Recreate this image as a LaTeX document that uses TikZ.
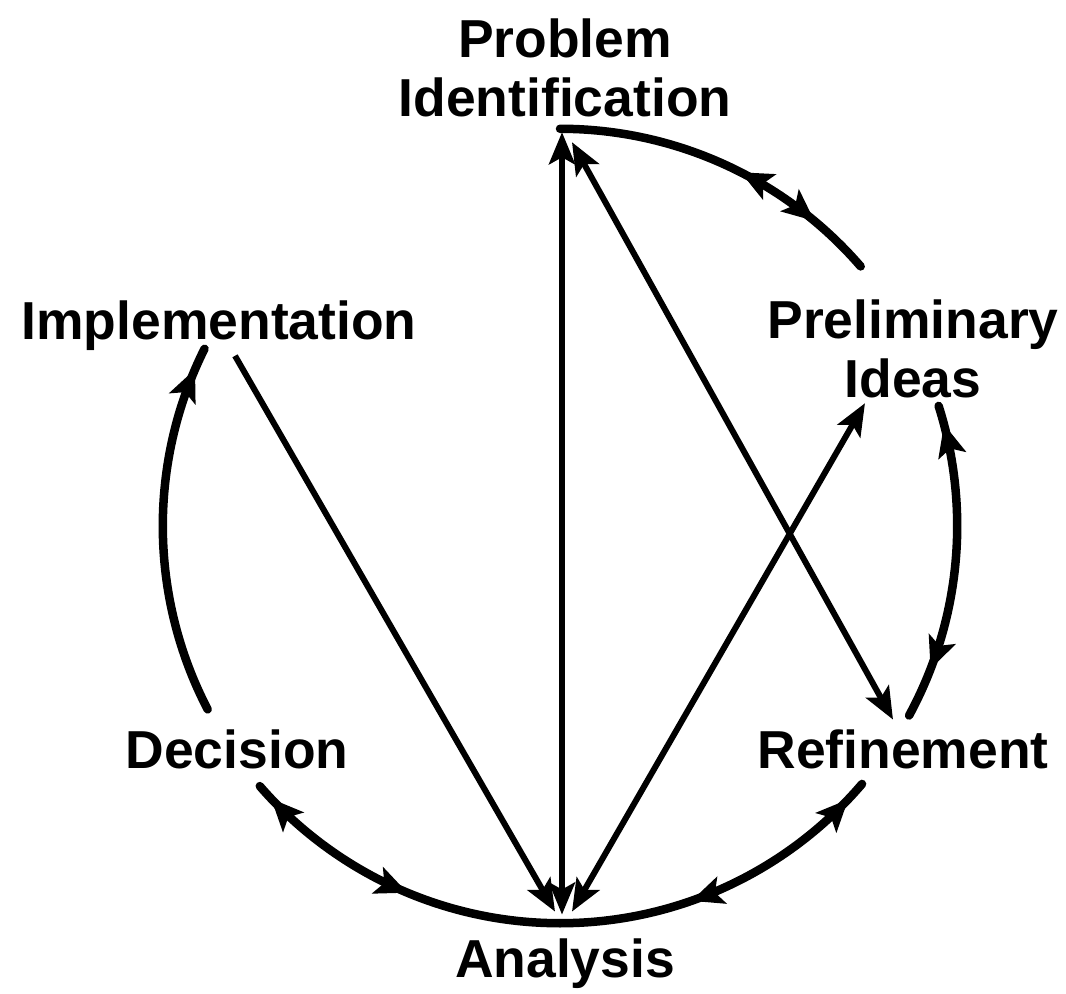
\documentclass[tikz,border=0pt]{standalone}
\usepackage{fontspec}
\setmainfont{Liberation Sans}
\usetikzlibrary{arrows.meta,decorations.markings}

\begin{document}
\begin{tikzpicture}[
  x=0.01cm, y=0.01cm,
  stage/.style={inner sep=0pt, align=center, font=\fontsize{15.2}{17}\selectfont\bfseries},
  flow/.style={line width=0.6mm, -{Stealth[length=3.2mm,width=2.6mm,inset=0.7mm]}},
  flowboth/.style={line width=0.6mm, {Stealth[length=3.2mm,width=2.6mm,inset=0.7mm]}-{Stealth[length=3.2mm,width=2.6mm,inset=0.7mm]}},
  cycle/.style={line width=0.85mm, line cap=round},
  headat/.style={postaction={decorate, decoration={markings, mark=at position #1 with {\arrow{Stealth[length=3.2mm,width=2.8mm,inset=0.7mm]}}}}},
  tailat/.style={postaction={decorate, decoration={markings, mark=at position #1 with {\arrowreversed{Stealth[length=3.2mm,width=2.8mm,inset=0.7mm]}}}}},
]
\useasboundingbox (0,0) rectangle (1066,993);

% Stages
\node[stage] (pi) at (565,925) {Problem\\Identification};
\node[stage, anchor=base] (im) at (219,653) {Implementation};
\node[stage] (pid) at (913,644) {Preliminary\\Ideas};
\node[stage, anchor=base] (de) at (237,225) {Decision};
\node[stage, anchor=base] (re) at (903,225) {Refinement};
\node[stage, anchor=base] (an) at (565,16) {Analysis};

% Outer cycle
\coordinate (c) at (560,467);
\draw[cycle, tailat=0.55, headat=0.81] ([shift={(90:3.97cm)}]c) arc[start angle=90, end angle=40.8, radius=3.97cm];
\draw[cycle, tailat=0.06, headat=0.84] ([shift={(17.6:3.97cm)}]c) arc[start angle=17.6, end angle=-28.5, radius=3.97cm];
\draw[cycle, tailat=0.06, headat=0.61] ([shift={(-40.5:3.97cm)}]c) arc[start angle=-40.5, end angle=-90, radius=3.97cm];
\draw[cycle, tailat=0.05, headat=0.54] ([shift={(220.9:3.97cm)}]c) arc[start angle=220.9, end angle=270, radius=3.97cm];
\draw[cycle, headat=0.94] ([shift={(207.5:3.97cm)}]c) arc[start angle=207.5, end angle=153.5, radius=3.97cm];

% Cross links
\draw[flowboth] ([xshift=-0.3mm,yshift=-1.4mm]pi.south) -- ([xshift=-0.3mm,yshift=2.3mm]an.north);
\draw[flowboth] ([xshift=0.7mm,yshift=-2.4mm]pi.south) -- ([xshift=-1mm,yshift=0.9mm]re.north);
\draw[flow] ([xshift=1.6mm,yshift=-0.4mm]im.south) -- ([xshift=-1mm,yshift=2.6mm]an.north);
\draw[flowboth] ([xshift=0.7mm,yshift=2.6mm]an.north) -- ([xshift=-4.8mm,yshift=-0.4mm]pid.south);

\end{tikzpicture}
\end{document}
